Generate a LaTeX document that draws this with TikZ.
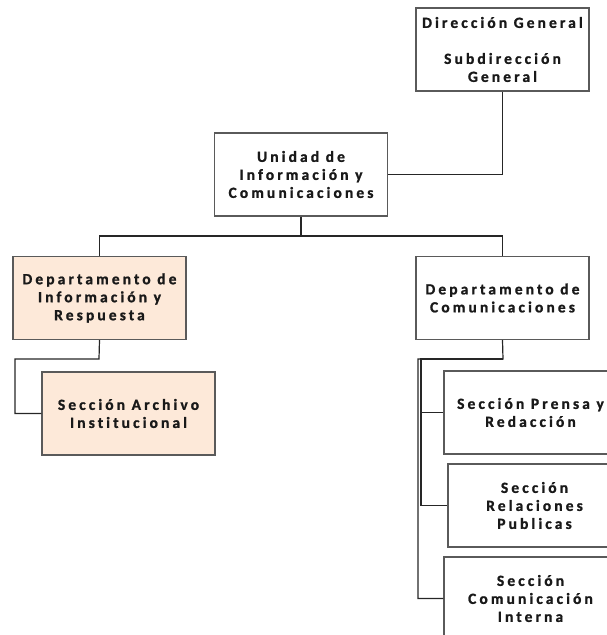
\documentclass[tikz,border=0pt]{standalone}
\usepackage{fontspec}
\setmainfont{Carlito}[LetterSpace=20, Ligatures=NoCommon, BoldFont={Carlito Bold},
  BoldFeatures={FakeBold=1.2}]
\begin{document}
\begin{tikzpicture}[x=1pt,y=-1pt,
  unit/.style={draw=boxgray, line width=1.1pt, minimum width=173pt, minimum height=83pt,
    inner sep=0pt, align=center, text=black!90,
    font=\fontsize{15.5pt}{18pt}\selectfont\bfseries},
  orangebox/.style={unit, fill=peach},
  link/.style={draw=linegray, line width=1.2pt}]
\definecolor{boxgray}{HTML}{5A5A5A}
\definecolor{linegray}{HTML}{262626}
\definecolor{peach}{HTML}{FDE9D9}
\useasboundingbox (0,0) rectangle (607,635);

% boxes
\node[unit] (dg) at (502.5,49.5) {Dirección General\\[18pt]Subdirección\\General};
\node[unit] (uic) at (301,174.5) {Unidad de\\Información y\\Comunicaciones};
\node[orangebox] (dir) at (99.5,298) {Departamento de\\Información y\\Respuesta};
\node[orangebox] (arch) at (128.5,413.5) {Sección Archivo\\Institucional};
\node[unit] (dcom) at (502.5,298) {Departamento de\\Comunicaciones};
\node[unit] (pren) at (530.5,412.5) {Sección Prensa y\\Redacción};
\node[unit] (rel) at (534.5,505.5) {Sección\\Relaciones\\Publicas};
\node[unit] (inte) at (530.5,598.5) {Sección\\Comunicación\\Interna};

% junction points
\coordinate (bus) at (301,236);
\coordinate (dirdrop) at (99,359);
\coordinate (dircorner) at (15,359);
\coordinate (comdrop) at (503,359);
\coordinate (spineA) at (418,359);
\coordinate (spineB) at (421,359);

% connectors
\draw[link] (dg.south) |- (uic.east);
\draw[link] (uic.south) -- (bus);
\draw[link] (dir.north) |- (bus) -| (dcom.north);
\draw[link] (dir.south) -- (dirdrop) -- (dircorner) |- (arch.west);
\draw[link] (dcom.south) -- (comdrop) -- (spineA) |- (inte.west);
\draw[link] (comdrop) -- (spineB) |- (rel.west);
\draw[link] (spineB) |- (pren.west);
\end{tikzpicture}
\end{document}
